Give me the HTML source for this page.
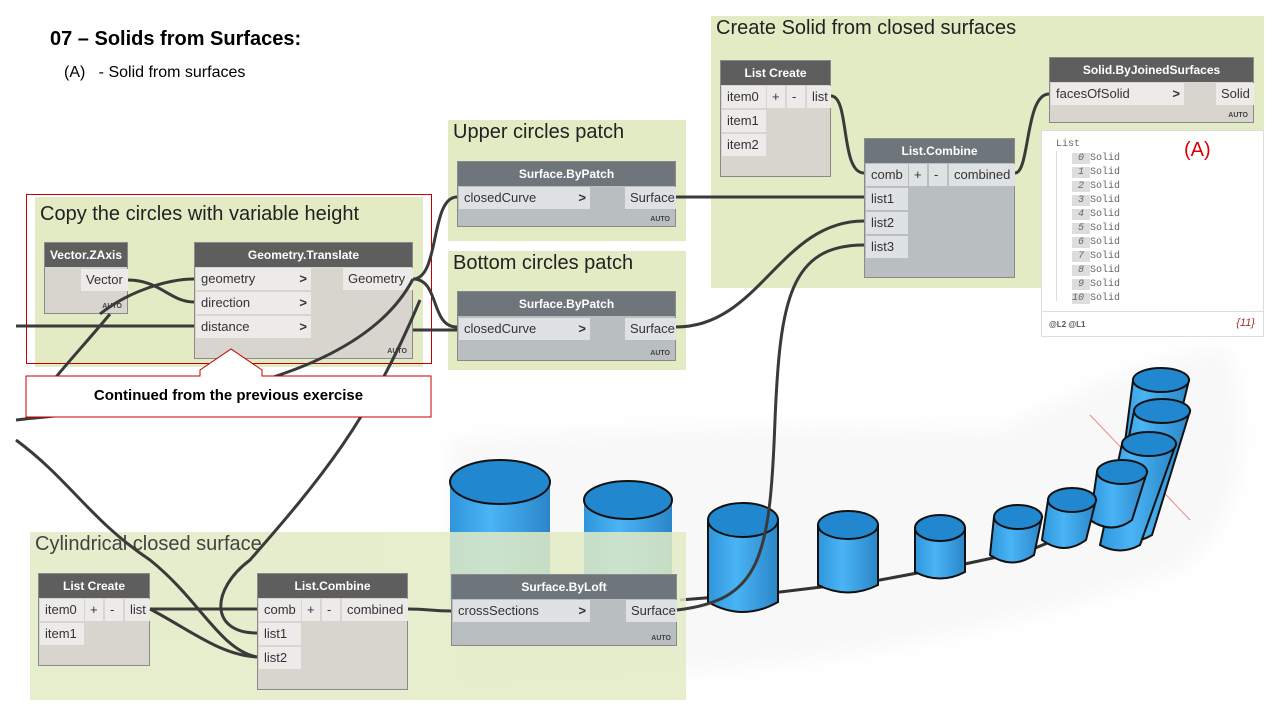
<!DOCTYPE html>
<html><head><meta charset="utf-8"><style>
body{margin:0;width:1280px;height:720px;position:relative;overflow:hidden;background:#fff;font-family:"Liberation Sans",sans-serif}
.a{position:absolute}
.g{position:absolute;background:#e2ebc4}
.gt{position:absolute;font-size:20px;color:#222;left:5px;top:1px}
.n{position:absolute;background:#d8d4ce;border:1px solid #8a8a8a;box-sizing:border-box}
.n.b{background:#b9bfc0}
.h{position:absolute;left:0;right:0;top:0;height:24px;background:#5e5e5e;color:#fff;font-weight:bold;font-size:12px;text-align:center;line-height:24px}
.n.b .h{background:#6e767c}
.p{position:absolute;background:#ecebe9;font-size:13px;color:#333;line-height:22px;padding-left:5px;box-sizing:border-box;height:22px}
.n.b .p{background:#dfe2e3}
.ar{position:absolute;right:4px;top:0;font-weight:bold}
.auto{position:absolute;right:5px;bottom:3px;font-size:7px;font-weight:bold;color:#444}
.mono{font-family:"Liberation Mono",monospace;font-size:10px;color:#666}
</style></head><body>
<svg class="a" style="left:0;top:0" width="1280" height="720">
<defs><filter id="bl"><feGaussianBlur stdDeviation="10"/></filter>
<linearGradient id="cy" x1="0" x2="1"><stop offset="0" stop-color="#2f95db"/><stop offset=".4" stop-color="#4ab4f5"/><stop offset="1" stop-color="#2a86c8"/></linearGradient></defs>
<path d="M450 440 Q700 420 1000 430 Q1180 340 1230 350 Q1270 500 1180 570 Q950 650 720 670 Q560 690 450 690Z" fill="#f8f8f8" filter="url(#bl)"/>
</svg>
<div class="a" style="left:50px;top:28px;font-size:20px;font-weight:bold">07 – Solids from Surfaces:</div>
<div class="a" style="left:64px;top:64px;font-size:16px">(A) &nbsp;&nbsp;- Solid from surfaces</div>

<div class="g" style="left:711px;top:16px;width:553px;height:272px"><div class="gt">Create Solid from closed surfaces</div></div>
<div class="g" style="left:448px;top:120px;width:238px;height:121px"><div class="gt">Upper circles patch</div></div>
<div class="g" style="left:448px;top:251px;width:238px;height:119px"><div class="gt">Bottom circles patch</div></div>
<div class="g" style="left:35px;top:197px;width:388px;height:170px"><div class="gt" style="top:6px">Copy the circles with variable height</div></div>

<svg class="a" style="left:0;top:0" width="1280" height="720">
<g stroke="#111" stroke-width="2">
<line x1="1090" y1="415" x2="1190" y2="520" stroke="#e88" stroke-width="1"/>
<path d="M680 600 L780 592 L880 580 L960 565 L1030 550 L1080 530" fill="none" stroke="#333" stroke-width="3"/>
<path d="M450 482 L450 600 L550 600 L550 482Z" fill="url(#cy)" stroke="none"/><ellipse cx="500" cy="482" rx="50" ry="22" fill="#2188d0"/>
<path d="M584 500 L584 600 L672 600 L672 500Z" fill="url(#cy)" stroke="none"/><ellipse cx="628" cy="500" rx="44" ry="19" fill="#2188d0"/>
<path d="M708 520 L708 602 Q743 622 778 602 L778 520Z" fill="url(#cy)"/><ellipse cx="743" cy="520" rx="35" ry="17" fill="#2188d0"/>
<path d="M818 525 L818 585 Q848 600 878 585 L878 525Z" fill="url(#cy)"/><ellipse cx="848" cy="525" rx="30" ry="14" fill="#2188d0"/>
<path d="M915 528 L915 572 Q940 585 965 572 L965 528Z" fill="url(#cy)"/><ellipse cx="940" cy="528" rx="25" ry="13" fill="#2188d0"/>
<path d="M994 517 L990 555 Q1012 570 1034 555 L1042 517Z" fill="url(#cy)"/><ellipse cx="1018" cy="517" rx="24" ry="12" fill="#2188d0"/>
<path d="M1133 380 L1115 520 Q1135 532 1155 520 L1189 380Z" fill="url(#cy)"/><ellipse cx="1161" cy="380" rx="28" ry="12" fill="#2188d0"/>
<path d="M1134 411 L1110 535 Q1132 547 1152 535 L1190 411Z" fill="url(#cy)"/><ellipse cx="1162" cy="411" rx="28" ry="12" fill="#2188d0"/>
<path d="M1122 444 L1100 545 Q1120 556 1140 545 L1176 444Z" fill="url(#cy)"/><ellipse cx="1149" cy="444" rx="27" ry="12" fill="#2188d0"/>
<path d="M1097 472 L1090 520 Q1112 535 1132 520 L1147 472Z" fill="url(#cy)"/><ellipse cx="1122" cy="472" rx="25" ry="12" fill="#2188d0"/>
<path d="M1048 500 L1042 540 Q1064 556 1086 540 L1096 500Z" fill="url(#cy)"/><ellipse cx="1072" cy="500" rx="24" ry="12" fill="#2188d0"/>
</g></svg>

<div class="g" style="left:30px;top:532px;width:656px;height:168px;opacity:.85"><div class="gt">Cylindrical closed surface</div></div>

<div class="a" style="left:26px;top:194px;width:404px;height:168px;border:1px solid #c00000"></div>

<div class="n" style="left:720px;top:60px;width:111px;height:117px"><div class="h">List Create</div>
<div class="p" style="left:1px;top:25px;width:44px">item0</div><div class="p" style="left:46px;top:25px;width:18px">+</div><div class="p" style="left:66px;top:25px;width:18px">-</div><div class="p" style="left:86px;top:25px;width:24px">list</div>
<div class="p" style="left:1px;top:49px;width:44px">item1</div><div class="p" style="left:1px;top:73px;width:44px">item2</div></div>

<div class="n" style="left:1049px;top:57px;width:205px;height:66px"><div class="h">Solid.ByJoinedSurfaces</div>
<div class="p" style="left:1px;top:25px;width:133px">facesOfSolid<span class="ar">&gt;</span></div><div class="p" style="left:166px;top:25px;width:38px">Solid</div><div class="auto">AUTO</div></div>

<div class="a" style="left:1041px;top:130px;width:223px;height:207px;background:#fff;border:1px solid #ddd;box-sizing:border-box">
<div class="a mono" style="left:14px;top:8px">List</div>
<div class="a" style="left:14px;top:20px;width:1px;height:150px;background:#ddd"></div>
<div class="a mono" style="left:30px;top:21px;line-height:14px">
<span style="background:#ddd;font-style:italic">&nbsp;0 </span> Solid<br><span style="background:#ddd;font-style:italic">&nbsp;1 </span> Solid<br><span style="background:#ddd;font-style:italic">&nbsp;2 </span> Solid<br><span style="background:#ddd;font-style:italic">&nbsp;3 </span> Solid<br><span style="background:#ddd;font-style:italic">&nbsp;4 </span> Solid<br><span style="background:#ddd;font-style:italic">&nbsp;5 </span> Solid<br><span style="background:#ddd;font-style:italic">&nbsp;6 </span> Solid<br><span style="background:#ddd;font-style:italic">&nbsp;7 </span> Solid<br><span style="background:#ddd;font-style:italic">&nbsp;8 </span> Solid<br><span style="background:#ddd;font-style:italic">&nbsp;9 </span> Solid<br><span style="background:#ddd;font-style:italic">10 </span> Solid</div>
<div class="a" style="left:142px;top:8px;color:#d00;font-size:20px">(A)</div>
<div class="a" style="left:0;right:0;top:180px;height:1px;background:#ddd"></div>
<div class="a" style="left:7px;top:189px;font-size:8px;font-weight:bold;color:#555">@L2 @L1</div>
<div class="a" style="right:8px;top:186px;font-size:11px;font-style:italic;color:#933">{11}</div></div>

<div class="n b" style="left:864px;top:138px;width:151px;height:140px"><div class="h">List.Combine</div>
<div class="p" style="left:1px;top:25px;width:42px">comb</div><div class="p" style="left:44px;top:25px;width:18px">+</div><div class="p" style="left:64px;top:25px;width:18px">-</div><div class="p" style="left:84px;top:25px;width:66px">combined</div>
<div class="p" style="left:1px;top:49px;width:42px">list1</div><div class="p" style="left:1px;top:73px;width:42px">list2</div><div class="p" style="left:1px;top:97px;width:42px">list3</div></div>

<div class="n b" style="left:457px;top:161px;width:219px;height:66px"><div class="h">Surface.ByPatch</div>
<div class="p" style="left:1px;top:25px;width:131px">closedCurve<span class="ar">&gt;</span></div><div class="p" style="left:167px;top:25px;width:51px">Surface</div><div class="auto">AUTO</div></div>
<div class="n b" style="left:457px;top:291px;width:219px;height:70px"><div class="h">Surface.ByPatch</div>
<div class="p" style="left:1px;top:26px;width:131px">closedCurve<span class="ar">&gt;</span></div><div class="p" style="left:167px;top:26px;width:51px">Surface</div><div class="auto">AUTO</div></div>

<div class="n" style="left:44px;top:242px;width:84px;height:72px"><div class="h">Vector.ZAxis</div>
<div class="p" style="left:36px;top:26px;width:47px">Vector</div><div class="auto">AUTO</div></div>

<div class="n" style="left:194px;top:242px;width:219px;height:117px"><div class="h">Geometry.Translate</div>
<div class="p" style="left:1px;top:25px;width:115px">geometry<span class="ar">&gt;</span></div><div class="p" style="left:148px;top:25px;width:70px">Geometry</div>
<div class="p" style="left:1px;top:49px;width:115px">direction<span class="ar">&gt;</span></div>
<div class="p" style="left:1px;top:73px;width:115px">distance<span class="ar">&gt;</span></div><div class="auto">AUTO</div></div>

<div class="n" style="left:38px;top:573px;width:112px;height:93px"><div class="h">List Create</div>
<div class="p" style="left:1px;top:25px;width:44px">item0</div><div class="p" style="left:46px;top:25px;width:18px">+</div><div class="p" style="left:66px;top:25px;width:18px">-</div><div class="p" style="left:86px;top:25px;width:25px">list</div>
<div class="p" style="left:1px;top:49px;width:44px">item1</div></div>

<div class="n" style="left:257px;top:573px;width:151px;height:117px"><div class="h">List.Combine</div>
<div class="p" style="left:1px;top:25px;width:42px">comb</div><div class="p" style="left:44px;top:25px;width:18px">+</div><div class="p" style="left:64px;top:25px;width:18px">-</div><div class="p" style="left:84px;top:25px;width:66px">combined</div>
<div class="p" style="left:1px;top:49px;width:42px">list1</div><div class="p" style="left:1px;top:73px;width:42px">list2</div></div>

<div class="n b" style="left:451px;top:574px;width:226px;height:72px"><div class="h">Surface.ByLoft</div>
<div class="p" style="left:1px;top:25px;width:137px">crossSections<span class="ar">&gt;</span></div><div class="p" style="left:174px;top:25px;width:51px">Surface</div><div class="auto">AUTO</div></div>

<svg class="a" style="left:0;top:0" width="1280" height="720">
<g fill="none" stroke="#3a3a3a" stroke-width="3">
<path d="M831 96 C850 96 840 173 864 173"/>
<path d="M1015 173 C1030 173 1025 94 1049 94"/>
<path d="M676 197 C760 197 780 197 864 197"/>
<path d="M676 327 C760 327 780 221 864 221"/>
<path d="M864 245 C790 245 780 300 775 420 C770 560 760 600 677 610"/>
<path d="M413 279 C440 279 430 197 457 197"/>
<path d="M413 279 C440 279 430 327 457 327"/>
<path d="M413 330 L457 330"/>
<path d="M128 280 C160 280 170 302 194 302"/>
<path d="M100 314 C130 290 170 279 194 279"/>
<path d="M16 326 L194 326"/>
<path d="M110 314 C80 350 60 370 30 410"/>
<path d="M16 420 C100 410 350 400 413 279"/>
<path d="M16 440 C70 480 90 520 150 560 C200 600 220 650 257 657"/>
<path d="M150 609 C200 609 220 609 257 609"/>
<path d="M408 609 C430 609 430 611 451 611"/>
<path d="M257 633 C210 633 210 590 250 560 C320 480 370 420 420 300"/>
<path d="M150 609 C190 630 220 655 257 657"/>
</g></svg>

<svg class="a" style="left:0;top:0" width="1280" height="720">
<path d="M26 376 L200 376 L200 370 L231 349 L262 370 L262 376 L431 376 L431 417 L26 417Z" fill="#fff" stroke="#c00000" stroke-width="1"/>
</svg>
<div class="a" style="left:26px;top:387px;width:405px;text-align:center;font-size:15px;font-weight:bold">Continued from the previous exercise</div>
</body></html>
